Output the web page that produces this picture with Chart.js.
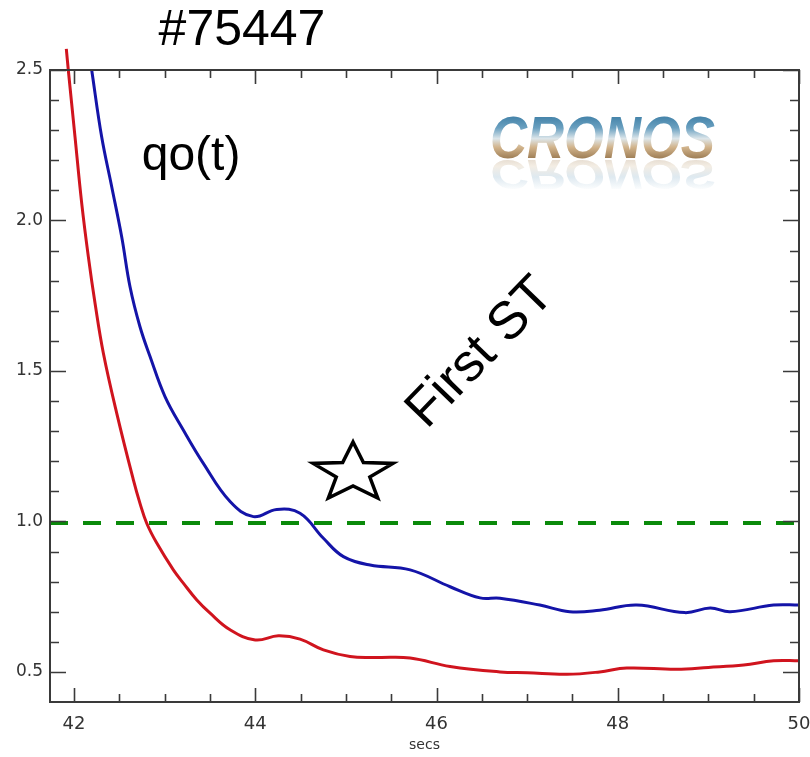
<!DOCTYPE html>
<html>
<head>
<meta charset="utf-8">
<title>qo(t) #75447</title>
<script src="https://cdn.jsdelivr.net/npm/chart.js@4.4.1/dist/chart.umd.min.js"></script>
<style>
  body { margin: 0; background: #fff; }
  #wrap { width: 810px; height: 757px; }
</style>
</head>
<body>
<div id="wrap"><canvas id="qoChart" width="810" height="757"></canvas></div>
<script>
// q0 traces (time in secs)
const redTime = [41.915, 41.937, 42.011, 42.085, 42.158, 42.232, 42.324, 42.471, 42.655, 42.728, 42.802, 42.913, 43.096, 43.206, 43.355, 43.502, 43.722, 44.0, 44.255, 44.494, 44.752, 45.046, 45.35, 45.709, 46.15, 46.7, 47.0, 47.44, 47.8, 48.1, 48.65, 49.0, 49.39, 49.72, 50.0];
const redQ = [2.57, 2.50, 2.278, 2.057, 1.880, 1.725, 1.559, 1.360, 1.138, 1.060, 0.994, 0.928, 0.839, 0.795, 0.739, 0.695, 0.640, 0.606, 0.620, 0.609, 0.573, 0.551, 0.548, 0.546, 0.518, 0.500, 0.497, 0.492, 0.500, 0.513, 0.509, 0.515, 0.523, 0.537, 0.537];

const blueTime = [42.195, 42.305, 42.416, 42.526, 42.618, 42.728, 42.839, 43.004, 43.206, 43.427, 43.722, 43.979, 44.237, 44.494, 44.752, 44.973, 45.267, 45.709, 46.15, 46.48, 46.7, 47.14, 47.47, 47.8, 48.21, 48.74, 49.02, 49.24, 49.72, 50.0];
const blueQ = [2.50, 2.278, 2.112, 1.946, 1.780, 1.647, 1.548, 1.415, 1.304, 1.193, 1.066, 1.016, 1.040, 1.027, 0.944, 0.883, 0.855, 0.839, 0.783, 0.746, 0.745, 0.722, 0.700, 0.705, 0.722, 0.697, 0.712, 0.700, 0.722, 0.722];

// q = 1 reference
const refTime = [41.735, 50];
const refQ = [0.995, 0.995];

// axes
const xRange = [41.735, 50];
const yRange = [0.4, 2.5];
const xTicks = [42, 44, 46, 48, 50];
const yTicks = [0.5, 1.0, 1.5, 2.0, 2.5];
const xMinorStep = 0.5;
const yMinorStep = 0.1;

function toPoints(xs, ys) {
    return xs.map((v, i) => ({ x: v, y: ys[i] }));
}

// frame, inward ticks and the text labels on top of the plot
const decorPlugin = {
    id: 'decor',
    afterDraw(chart) {
        const { ctx, chartArea: a, scales: { x, y } } = chart;
        ctx.save();

        ctx.strokeStyle = '#3a3a3a';
        ctx.lineWidth = 2;
        ctx.strokeRect(a.left, a.top, a.right - a.left, a.bottom - a.top);

        ctx.lineWidth = 1.6;
        ctx.beginPath();
        for (let v = xTicks[0]; v <= xRange[1] + 1e-6; v += xMinorStep) {
            const px = Math.round(x.getPixelForValue(v)) + 0.5;
            const len = xTicks.some(t => Math.abs(t - v) < 1e-6) ? 14 : 8;
            ctx.moveTo(px, a.bottom); ctx.lineTo(px, a.bottom - len);
            ctx.moveTo(px, a.top); ctx.lineTo(px, a.top + len);
        }
        for (let v = yTicks[0]; v <= yRange[1] + 1e-6; v += yMinorStep) {
            const py = Math.round(y.getPixelForValue(v)) + 0.5;
            const len = yTicks.some(t => Math.abs(t - v) < 1e-6) ? 16 : 9;
            ctx.moveTo(a.left, py); ctx.lineTo(a.left + len, py);
            ctx.moveTo(a.right, py); ctx.lineTo(a.right - len, py);
        }
        ctx.stroke();

        // shot number
        ctx.fillStyle = '#000';
        ctx.font = '50px "Liberation Sans", Arial, sans-serif';
        ctx.textAlign = 'center';
        ctx.textBaseline = 'alphabetic';
        ctx.fillText('#75447', a.left + 192, 45);

        // qo(t)
        ctx.textAlign = 'left';
        ctx.font = '48px "Liberation Sans", Arial, sans-serif';
        ctx.fillText('qo(t)', x.getPixelForValue(42.747), y.getPixelForValue(2.168));

        // star marker
        const sx = x.getPixelForValue(45.079), sy = y.getPixelForValue(1.161);
        ctx.beginPath();
        for (let k = 0; k < 10; k++) {
            const ang = -Math.PI / 2 + k * Math.PI / 5;
            const r = k % 2 === 0 ? 1 : 0.42;
            const px = sx + Math.cos(ang) * 42 * r;
            const py = sy + Math.sin(ang) * 31 * r;
            if (k === 0) ctx.moveTo(px, py); else ctx.lineTo(px, py);
        }
        ctx.closePath();
        ctx.fillStyle = '#fff';
        ctx.fill();
        ctx.lineWidth = 3.5;
        ctx.lineJoin = 'miter';
        ctx.strokeStyle = '#000';
        ctx.stroke();

        // First ST
        ctx.save();
        ctx.translate(x.getPixelForValue(45.893), y.getPixelForValue(1.304));
        ctx.rotate(-46 * Math.PI / 180);
        ctx.fillStyle = '#000';
        ctx.font = '53px "Liberation Sans", Arial, sans-serif';
        ctx.fillText('First ST', 0, 0);
        ctx.restore();

        // CRONOS logo with reflection
        const lx = a.left + 440, base = 158, capTop = 115;
        ctx.font = 'italic bold 60px "Liberation Sans", Arial, sans-serif';
        const w = ctx.measureText('CRONOS').width;
        const sxScale = 225 / w;

        ctx.save();
        ctx.translate(lx, 0);
        ctx.scale(sxScale, 1);
        const g = ctx.createLinearGradient(0, capTop, 0, base);
        g.addColorStop(0, '#3f7fa6');
        g.addColorStop(0.3, '#6aa0c0');
        g.addColorStop(0.55, '#dde6ea');
        g.addColorStop(0.75, '#d2b48c');
        g.addColorStop(1, '#a08058');
        ctx.fillStyle = g;
        ctx.fillText('CRONOS', 0, base);
        ctx.restore();

        ctx.save();
        ctx.translate(lx, base + 2 + 0.72 * base);
        ctx.scale(sxScale, -0.72);
        ctx.globalAlpha = 0.3;
        const g2 = ctx.createLinearGradient(0, capTop, 0, base);
        g2.addColorStop(0, '#ffffff');
        g2.addColorStop(0.45, '#8fb4cc');
        g2.addColorStop(0.8, '#d7c2a4');
        g2.addColorStop(1, '#b0916a');
        ctx.fillStyle = g2;
        ctx.fillText('CRONOS', 0, base);
        ctx.restore();

        ctx.restore();
    }
};

const data = {
    datasets: [
        {
            label: 'q0 (blue)',
            data: toPoints(blueTime, blueQ),
            borderColor: '#1414a8',
            borderWidth: 3,
            pointRadius: 0,
            tension: 0.4,
            clip: { left: 2, top: 22, right: 2, bottom: 2 }
        },
        {
            label: 'q0 (red)',
            data: toPoints(redTime, redQ),
            borderColor: '#d0141e',
            borderWidth: 3,
            pointRadius: 0,
            tension: 0.4,
            clip: { left: 2, top: 22, right: 2, bottom: 2 }
        },
        {
            label: 'q = 1',
            data: toPoints(refTime, refQ),
            borderColor: '#0a8a0a',
            borderWidth: 4,
            borderDash: [18, 15],
            pointRadius: 0
        }
    ]
};

const config = {
    type: 'line',
    data: data,
    options: {
        responsive: false,
        animation: false,
        layout: { padding: { top: 70, right: 11, left: 0, bottom: 0 } },
        plugins: {
            legend: { display: false },
            tooltip: { enabled: false }
        },
        scales: {
            x: {
                type: 'linear',
                min: xRange[0],
                max: xRange[1],
                afterBuildTicks: s => { s.ticks = xTicks.map(v => ({ value: v })); },
                afterFit: s => { s.height = 55; s.paddingLeft = 0; s.paddingRight = 0; },
                grid: { display: false, drawTicks: false },
                border: { display: false },
                ticks: {
                    padding: 12,
                    color: '#333',
                    font: { family: 'DejaVu Sans', size: 18 },
                    callback: v => v.toFixed(0)
                },
                title: {
                    display: true,
                    text: 'secs',
                    color: '#333',
                    font: { family: 'DejaVu Sans', size: 14 },
                    padding: { top: 0, bottom: 3 }
                }
            },
            y: {
                type: 'linear',
                min: yRange[0],
                max: yRange[1],
                afterBuildTicks: s => { s.ticks = yTicks.map(v => ({ value: v })); },
                afterFit: s => { s.width = 50; s.paddingTop = 0; s.paddingBottom = 0; },
                grid: { display: false, drawTicks: false },
                border: { display: false },
                ticks: {
                    padding: 7,
                    color: '#333',
                    font: { family: 'DejaVu Sans', size: 17 },
                    callback: v => v.toFixed(1)
                }
            }
        }
    },
    plugins: [decorPlugin]
};

const qoChart = new Chart(document.getElementById('qoChart'), config);
</script>
</body>
</html>
